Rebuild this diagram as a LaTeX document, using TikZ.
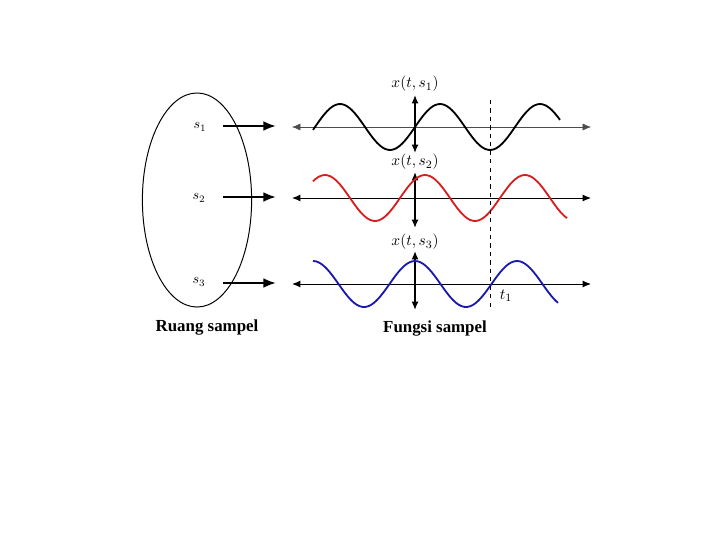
\documentclass[tikz,border=0pt]{standalone}
\usepackage{fontspec}
\setmainfont{Liberation Serif}
\usetikzlibrary{arrows.meta,shapes.geometric}

\definecolor{wavered}{RGB}{215,30,30}
\definecolor{waveblue}{RGB}{25,25,175}

\begin{document}
\begin{tikzpicture}[x=0.025cm,y=-0.025cm,
	axis/.style={{Latex[length=6pt,width=5pt]}-{Latex[length=6pt,width=5pt]},line width=0.7pt},
	samplearrow/.style={-{Latex[length=9pt,width=7pt]},line width=1.6pt},
	wave/.style={line width=1.3pt,smooth,samples=90},
	caption/.style={font=\bfseries\fontsize{12}{14}\selectfont},
	flabel/.style={font=\fontsize{11}{13}\selectfont}]
	\useasboundingbox (0,0) rectangle (720,540);
	% ruang sampel
	\node (space) [draw,ellipse,line width=0.7pt,inner sep=0pt,minimum width=2.73cm,minimum height=5.35cm] at (197,200) {};
	\node (s1) at (200,127) {$s_1$};
	\node (s2) at (199,198) {$s_2$};
	\node (s3) at (199,282) {$s_3$};
	\coordinate (from1) at (223,126); \coordinate (to1) at (276,126);
	\coordinate (from2) at (223,197); \coordinate (to2) at (276,197);
	\coordinate (from3) at (223,283); \coordinate (to3) at (276,283);
	\draw[samplearrow] (from1) -- (to1);
	\draw[samplearrow] (from2) -- (to2);
	\draw[samplearrow] (from3) -- (to3);
	\node (space label) [caption] at (207,327) {Ruang sampel};
	% fungsi sampel
	\coordinate (h1l) at (292,127); \coordinate (h1r) at (591,127);
	\coordinate (h2l) at (292,198); \coordinate (h2r) at (591,198);
	\coordinate (h3l) at (292,284); \coordinate (h3r) at (591,284);
	\coordinate (v1t) at (415,95);  \coordinate (v1b) at (415,153);
	\coordinate (v2t) at (415,172); \coordinate (v2b) at (415,228);
	\coordinate (v3t) at (415,251); \coordinate (v3b) at (415,310);
	\draw[axis,line width=0.4pt,gray!60!black] (h1l) -- (h1r);
	\draw[axis] (h2l) -- (h2r);
	\draw[axis] (h3l) -- (h3r);
	\draw[axis,line width=1.1pt] (v1t) -- (v1b);
	\draw[axis,line width=1.1pt] (v2t) -- (v2b);
	\draw[axis,line width=1.1pt] (v3t) -- (v3b);
	\draw[wave,black,domain=313:560] plot (\x,{127-23*sin(3.6*(\x-415))});
	\draw[wave,wavered,domain=313:567] plot (\x,{198-23*cos(3.6*(\x-425))});
	\draw[wave,waveblue,domain=313:558] plot (\x,{284-23*cos(3.53*(\x-415))});
	\coordinate (dtop) at (490,100); \coordinate (dbot) at (490,307);
	\draw[dashed,line width=0.6pt] (dtop) -- (dbot);
	\node (x1) [flabel] at (415,84) {$x(t,s_1)$};
	\node (x2) [flabel] at (415,162) {$x(t,s_2)$};
	\node (x3) [flabel] at (415,242) {$x(t,s_3)$};
	\node (t1) [flabel] at (506,296) {$t_1$};
	\node (func label) [caption] at (435,328) {Fungsi sampel};
\end{tikzpicture}
\end{document}
